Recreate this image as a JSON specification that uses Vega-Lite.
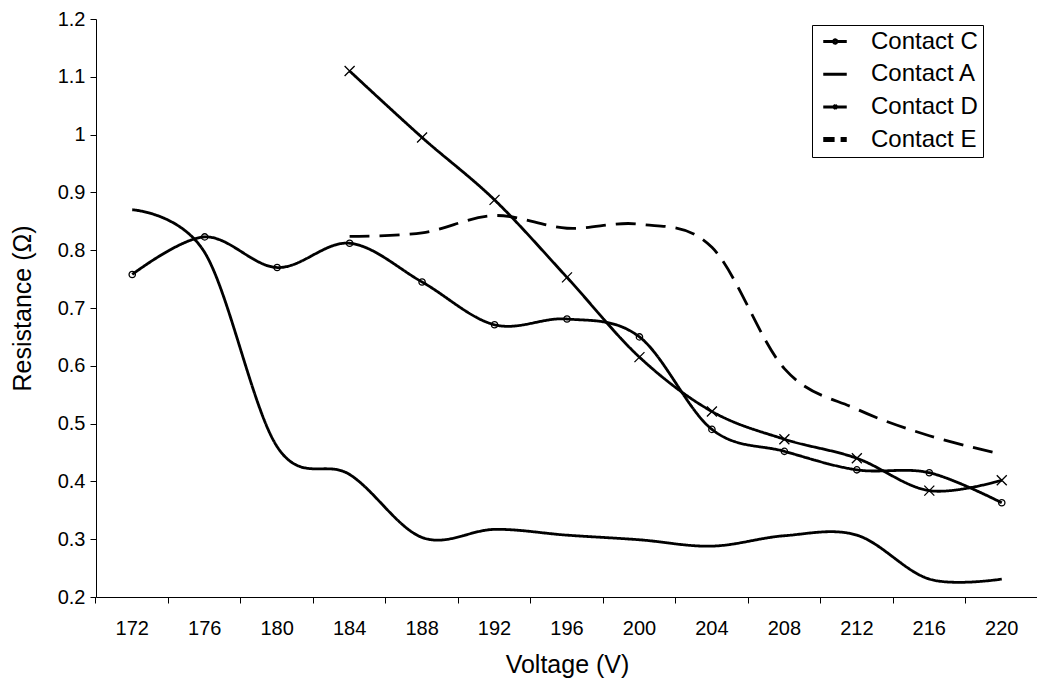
{
  "$schema": "https://vega.github.io/schema/vega-lite/v6.json",
  "width": 942,
  "height": 578,
  "autosize": {"type": "none"},
  "padding": {"left": 96, "top": 19, "right": 0, "bottom": 90},
  "background": "white",
  "config": {
    "view": {"stroke": null},
    "font": "Liberation Sans",
    "axis": {
      "domainColor": "black", "tickColor": "black", "labelColor": "black", "titleColor": "black",
      "labelFont": "Liberation Sans", "titleFont": "Liberation Sans",
      "labelFontSize": 20, "titleFontSize": 25, "titleFontWeight": "normal",
      "grid": false, "tickSize": 6, "domainWidth": 1, "tickWidth": 1
    }
  },
  "data": {"values": [
    {"series": "Contact C", "voltage": 172, "resistance": 0.758},
    {"series": "Contact C", "voltage": 176, "resistance": 0.823},
    {"series": "Contact C", "voltage": 180, "resistance": 0.770},
    {"series": "Contact C", "voltage": 184, "resistance": 0.812},
    {"series": "Contact C", "voltage": 188, "resistance": 0.745},
    {"series": "Contact C", "voltage": 192, "resistance": 0.671},
    {"series": "Contact C", "voltage": 196, "resistance": 0.681},
    {"series": "Contact C", "voltage": 200, "resistance": 0.650},
    {"series": "Contact C", "voltage": 204, "resistance": 0.490},
    {"series": "Contact C", "voltage": 208, "resistance": 0.452},
    {"series": "Contact C", "voltage": 212, "resistance": 0.420},
    {"series": "Contact C", "voltage": 216, "resistance": 0.415},
    {"series": "Contact C", "voltage": 220, "resistance": 0.363},
    {"series": "Contact A", "voltage": 172, "resistance": 0.870},
    {"series": "Contact A", "voltage": 176, "resistance": 0.796},
    {"series": "Contact A", "voltage": 180, "resistance": 0.460},
    {"series": "Contact A", "voltage": 184, "resistance": 0.412},
    {"series": "Contact A", "voltage": 188, "resistance": 0.303},
    {"series": "Contact A", "voltage": 192, "resistance": 0.317},
    {"series": "Contact A", "voltage": 196, "resistance": 0.307},
    {"series": "Contact A", "voltage": 200, "resistance": 0.299},
    {"series": "Contact A", "voltage": 204, "resistance": 0.288},
    {"series": "Contact A", "voltage": 208, "resistance": 0.306},
    {"series": "Contact A", "voltage": 212, "resistance": 0.307},
    {"series": "Contact A", "voltage": 216, "resistance": 0.231},
    {"series": "Contact A", "voltage": 220, "resistance": 0.231},
    {"series": "Contact D", "voltage": 184, "resistance": 1.110},
    {"series": "Contact D", "voltage": 188, "resistance": 0.995},
    {"series": "Contact D", "voltage": 192, "resistance": 0.887},
    {"series": "Contact D", "voltage": 196, "resistance": 0.753},
    {"series": "Contact D", "voltage": 200, "resistance": 0.615},
    {"series": "Contact D", "voltage": 204, "resistance": 0.521},
    {"series": "Contact D", "voltage": 208, "resistance": 0.473},
    {"series": "Contact D", "voltage": 212, "resistance": 0.440},
    {"series": "Contact D", "voltage": 216, "resistance": 0.384},
    {"series": "Contact D", "voltage": 220, "resistance": 0.402},
    {"series": "Contact E", "voltage": 184, "resistance": 0.824},
    {"series": "Contact E", "voltage": 188, "resistance": 0.830},
    {"series": "Contact E", "voltage": 192, "resistance": 0.860},
    {"series": "Contact E", "voltage": 196, "resistance": 0.838},
    {"series": "Contact E", "voltage": 200, "resistance": 0.845},
    {"series": "Contact E", "voltage": 204, "resistance": 0.805},
    {"series": "Contact E", "voltage": 208, "resistance": 0.595},
    {"series": "Contact E", "voltage": 212, "resistance": 0.525},
    {"series": "Contact E", "voltage": 216, "resistance": 0.479},
    {"series": "Contact E", "voltage": 220, "resistance": 0.447}
  ]},
  "encoding": {
    "x": {
      "field": "voltage", "type": "ordinal", "bandPosition": 0.5,
      "scale": {"type": "band", "paddingInner": 0, "paddingOuter": 0},
      "axis": {"title": "Voltage (V)", "labelAngle": 0, "bandPosition": 0, "labelPadding": 15, "titlePadding": 14, "labelOverlap": false}
    },
    "y": {
      "field": "resistance", "type": "quantitative",
      "scale": {"domain": [0.2, 1.2], "nice": false, "zero": false},
      "axis": {"title": "Resistance (Ω)", "values": [0.2, 0.3, 0.4, 0.5, 0.6, 0.7, 0.8, 0.9, 1.0, 1.1, 1.2], "format": ".1~f", "labelPadding": 5, "titlePadding": 22}
    }
  },
  "layer": [
    {
      "mark": {"type": "line", "interpolate": "cardinal", "color": "black", "strokeWidth": 2.8},
      "encoding": {
        "strokeDash": {
          "field": "series", "type": "nominal",
          "scale": {"domain": ["Contact C", "Contact A", "Contact D", "Contact E"], "range": [[1, 0], [1, 0], [1, 0], [20, 10]]},
          "legend": {
            "title": null, "orient": "none", "legendX": 716, "legendY": 6,
            "strokeColor": "black", "fillColor": "white", "padding": 4.5,
            "labelFont": "Liberation Sans", "labelFontSize": 24, "labelColor": "black",
            "symbolSize": 100, "symbolStrokeWidth": 3, "labelOffset": 30.5, "rowPadding": 8.7,
            "symbolStrokeColor": "black",
            "encode": {
              "symbols": {
                "update": {
                  "shape": {"signal": "datum.value === 'Contact C' ? 'M-1.05,0H1.02M1.68,0H3.65M1.68,0A0.33,0.33,0,1,1,1.02,0A0.33,0.33,0,1,1,1.68,0' : datum.value === 'Contact D' ? 'M-1.05,0H3.65M0.97,-0.38L1.73,0.38M0.97,0.38L1.73,-0.38' : datum.value === 'Contact E' ? 'M-1.05,0H1.22M2.42,0H3.65' : 'M-1.05,0H3.65'"},
                  "strokeDash": {"value": [1, 0]},
                  "strokeWidth": {"signal": "datum.value === 'Contact E' ? 5 : 3"},
                  "fill": {"value": "white"},
                  "stroke": {"value": "black"}
                }
              }
            }
          }
        }
      }
    },
    {
      "transform": [{"filter": "datum.series === 'Contact C' || datum.series === 'Contact D'"}],
      "mark": {"type": "point", "filled": false, "color": "black", "strokeWidth": 1.3, "opacity": 1},
      "encoding": {
        "shape": {"field": "series", "type": "nominal", "scale": {"domain": ["Contact C", "Contact D"], "range": ["circle", "M-1,-1L1,1M-1,1L1,-1"]}, "legend": null},
        "size": {"field": "series", "type": "nominal", "scale": {"domain": ["Contact C", "Contact D"], "range": [40, 100]}, "legend": null}
      }
    }
  ]
}
